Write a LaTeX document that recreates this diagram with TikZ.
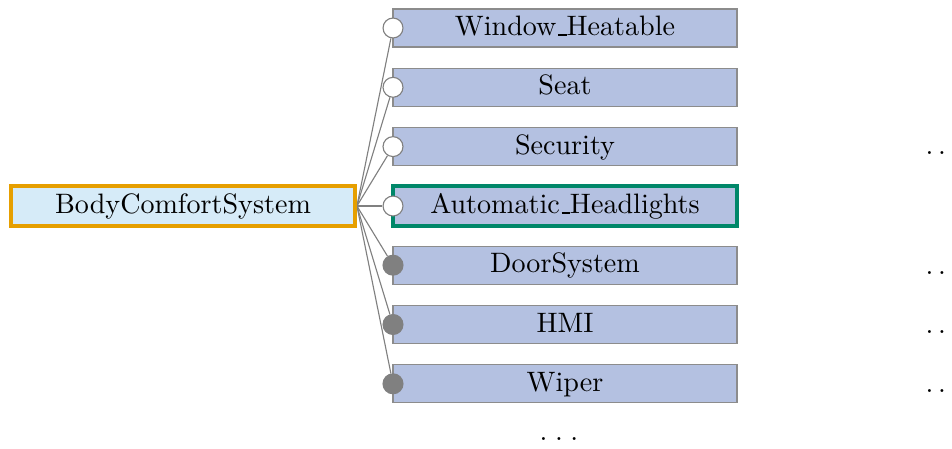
\documentclass[tikz,border=0pt]{standalone}
\usetikzlibrary{backgrounds}
\definecolor{featfill}{RGB}{180,193,225}
\definecolor{rootfill}{RGB}{214,235,248}
\definecolor{rootedge}{RGB}{230,159,0}
\definecolor{seledge}{RGB}{0,135,105}
\definecolor{edgegray}{RGB}{140,140,140}
\definecolor{dotgray}{RGB}{128,128,128}
% underscore drawn as a baseline rule
\newcommand\usc{\kern.06em\vbox{\hrule width .3em}}
% three spaced periods
\newcommand\threedots[1]{.\kern#1.\kern#1.}
\begin{document}
\begin{tikzpicture}[x=0.3559pt,y=-0.3559pt,
  feat/.style={draw=edgegray,line width=0.4pt,fill=featfill,minimum width=122.4pt,
    minimum height=13.5pt,inner sep=0pt,text height=1.55ex,text depth=.3ex},
  selfeat/.style={feat,draw=seledge,line width=1.4pt,minimum height=14.3pt},
  rootbox/.style={feat,draw=rootedge,fill=rootfill,line width=1.4pt,minimum height=14.3pt},
  optmark/.style={circle,draw=dotgray,line width=0.4pt,fill=white,minimum size=7.1pt,inner sep=0pt},
  mandmark/.style={circle,draw=dotgray,line width=0.4pt,fill=dotgray,minimum size=7.1pt,inner sep=0pt},
  link/.style={draw=dotgray,line width=0.4pt},
  more/.style={anchor=base west,inner sep=0pt}]
\useasboundingbox (0,0) rectangle (952,449);

% root feature
\node[rootbox] (root) at (183,206) {BodyComfortSystem};

% child features
\node[feat]    (f1) at (565,28.0)  {Window\usc Heatable};
\node[feat]    (f2) at (565,87.3)  {Seat};
\node[feat]    (f3) at (565,146.6) {Security};
\node[selfeat] (f4) at (565,206.0) {Automatic\usc Headlights};
\node[feat]    (f5) at (565,265.2) {DoorSystem};
\node[feat]    (f6) at (565,324.5) {HMI};
\node[feat]    (f7) at (565,383.8) {Wiper};

% optional / mandatory markers
\node[optmark]  (m1) at (393,28.0)  {};
\node[optmark]  (m2) at (393,87.3)  {};
\node[optmark]  (m3) at (393,146.6) {};
\node[optmark]  (m4) at (393,206.0) {};
\node[mandmark] (m5) at (393,265.2) {};
\node[mandmark] (m6) at (393,324.5) {};
\node[mandmark] (m7) at (393,383.8) {};

% connectors from the parent to each marker
\begin{scope}[on background layer]
\foreach \i in {1,...,7}
  \path[link] (root.east) -- (m\i);
\end{scope}

% collapsed sub-trees
\node[more] (d3) at (925,154.5) {\threedots{1.67pt}};
\node[more] (d5) at (925,274.8) {\threedots{1.67pt}};
\node[more] (d6) at (925,333.8) {\threedots{1.67pt}};
\node[more] (d7) at (925,392.8) {\threedots{1.67pt}};
\node[anchor=base,inner sep=0pt] (dmore) at (559,440) {\threedots{2.7pt}};
\end{tikzpicture}
\end{document}
